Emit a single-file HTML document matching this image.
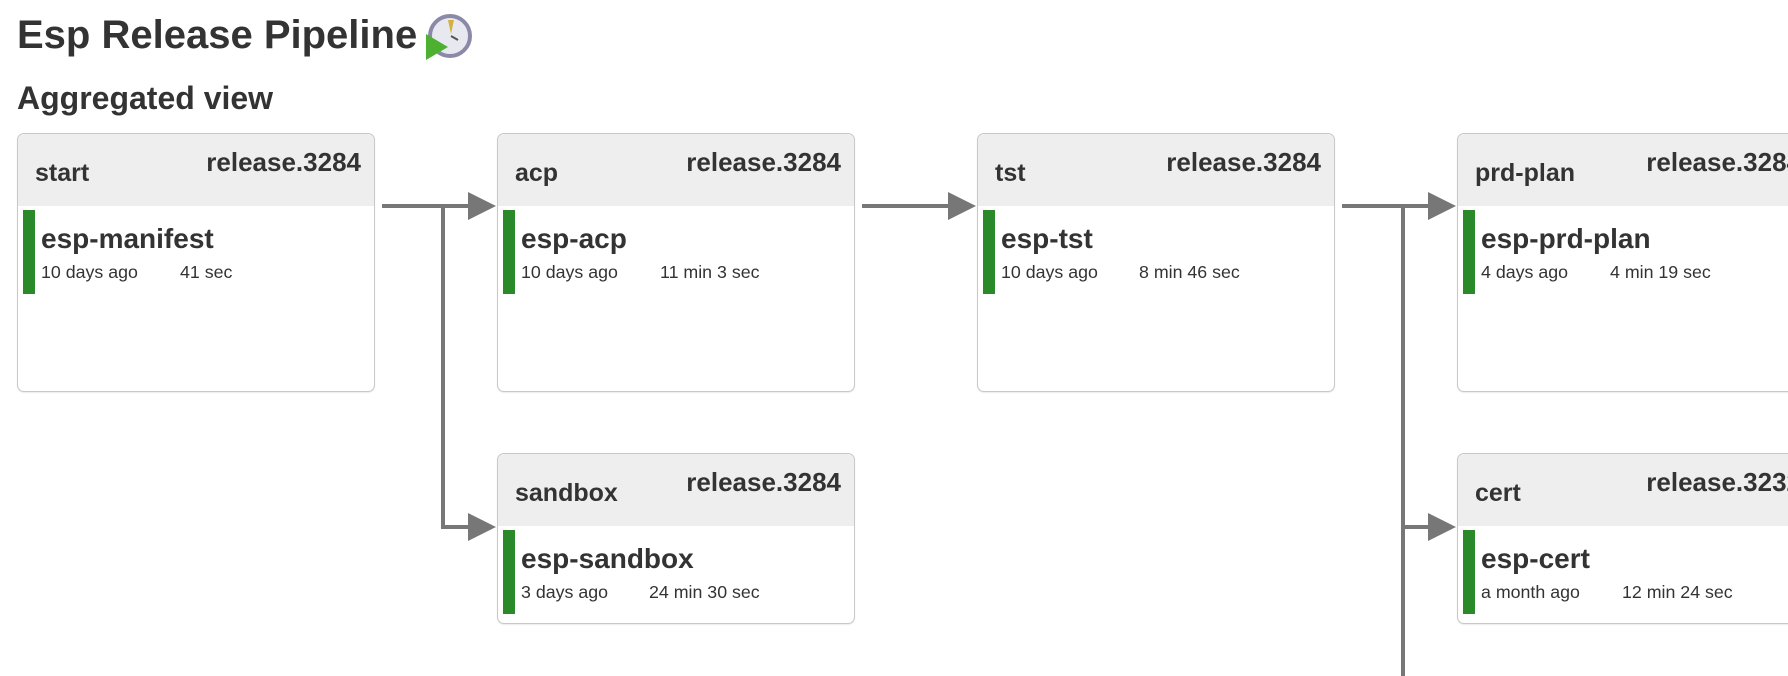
<!DOCTYPE html>
<html><head><meta charset="utf-8"><style>
html,body{margin:0;padding:0;width:1788px;height:676px;overflow:hidden;background:#fff;font-family:"Liberation Sans",Arial,sans-serif;color:#333;position:relative}
.t{position:absolute;white-space:nowrap;line-height:1}
.box{position:absolute;width:356px;border:1px solid #c8c8c8;border-radius:7px;background:#fff;overflow:hidden;box-shadow:0 1px 1px rgba(0,0,0,0.08)}
.hd{position:absolute;left:0;top:0;right:0;background:#eee}
.nm{position:absolute;left:17px;font-weight:bold;font-size:25px}
.rl{position:absolute;right:13px;font-weight:bold;font-size:26px}
.bar{position:absolute;left:5px;width:12px;background:#2a8a2a}
.job{position:absolute;left:23px;font-weight:bold;font-size:28px}
.m{position:absolute;font-size:17.8px}
</style></head><body>
<div class="t" style="left:17px;top:15px;font-size:40px;font-weight:bold">Esp Release Pipeline</div>
<svg style="position:absolute;left:424px;top:12px" width="48" height="50" viewBox="0 0 48 50">
<circle cx="26" cy="24" r="20" fill="#e8e8f0" stroke="#8a8aa8" stroke-width="4"/>
<path d="M24 8 L30 8 L27 22 Z" fill="#d4b040"/>
<line x1="27" y1="24" x2="34" y2="28" stroke="#555" stroke-width="2"/>
<path d="M2 22 L24 35 L2 48 Z" fill="#4cb030"/>
</svg>
<div class="t" style="left:17px;top:82px;font-size:32px;font-weight:bold">Aggregated view</div>

<svg style="position:absolute;left:0;top:0" width="1788" height="676">
<g stroke="#777" stroke-width="4" fill="none">
<line x1="382" y1="206" x2="470" y2="206"/>
<line x1="443" y1="206" x2="443" y2="527"/>
<line x1="441" y1="527" x2="470" y2="527"/>
<line x1="862" y1="206" x2="950" y2="206"/>
<line x1="1342" y1="206" x2="1430" y2="206"/>
<line x1="1403" y1="206" x2="1403" y2="676"/>
<line x1="1401" y1="527" x2="1430" y2="527"/>
</g>
<g fill="#777">
<path d="M468 192 L496 206 L468 220 Z"/>
<path d="M468 513 L496 527 L468 541 Z"/>
<path d="M948 192 L976 206 L948 220 Z"/>
<path d="M1428 192 L1456 206 L1428 220 Z"/>
<path d="M1428 513 L1456 527 L1428 541 Z"/>
</g>
</svg>

<div class="box" style="left:17px;top:133px;height:257px">
 <div class="hd" style="height:72px"></div>
 <div class="t nm" style="top:27px">start</div><div class="t rl" style="top:15px">release.3284</div>
 <div class="bar" style="top:76px;height:84px"></div>
 <div class="t job" style="top:91px">esp-manifest</div>
 <div class="t m" style="left:23px;top:130px">10 days ago</div><div class="t m" style="left:162px;top:130px">41 sec</div>
</div>
<div class="box" style="left:497px;top:133px;height:257px">
 <div class="hd" style="height:72px"></div>
 <div class="t nm" style="top:27px">acp</div><div class="t rl" style="top:15px">release.3284</div>
 <div class="bar" style="top:76px;height:84px"></div>
 <div class="t job" style="top:91px">esp-acp</div>
 <div class="t m" style="left:23px;top:130px">10 days ago</div><div class="t m" style="left:162px;top:130px">11 min 3 sec</div>
</div>
<div class="box" style="left:977px;top:133px;height:257px">
 <div class="hd" style="height:72px"></div>
 <div class="t nm" style="top:27px">tst</div><div class="t rl" style="top:15px">release.3284</div>
 <div class="bar" style="top:76px;height:84px"></div>
 <div class="t job" style="top:91px">esp-tst</div>
 <div class="t m" style="left:23px;top:130px">10 days ago</div><div class="t m" style="left:161px;top:130px">8 min 46 sec</div>
</div>
<div class="box" style="left:1457px;top:133px;height:257px">
 <div class="hd" style="height:72px"></div>
 <div class="t nm" style="top:27px">prd-plan</div><div class="t rl" style="top:15px">release.3284</div>
 <div class="bar" style="top:76px;height:84px"></div>
 <div class="t job" style="top:91px">esp-prd-plan</div>
 <div class="t m" style="left:23px;top:130px">4 days ago</div><div class="t m" style="left:152px;top:130px">4 min 19 sec</div>
</div>
<div class="box" style="left:497px;top:453px;height:169px">
 <div class="hd" style="height:72px"></div>
 <div class="t nm" style="top:27px">sandbox</div><div class="t rl" style="top:15px">release.3284</div>
 <div class="bar" style="top:76px;height:84px"></div>
 <div class="t job" style="top:91px">esp-sandbox</div>
 <div class="t m" style="left:23px;top:130px">3 days ago</div><div class="t m" style="left:151px;top:130px">24 min 30 sec</div>
</div>
<div class="box" style="left:1457px;top:453px;height:169px">
 <div class="hd" style="height:72px"></div>
 <div class="t nm" style="top:27px">cert</div><div class="t rl" style="top:15px">release.3232</div>
 <div class="bar" style="top:76px;height:84px"></div>
 <div class="t job" style="top:91px">esp-cert</div>
 <div class="t m" style="left:23px;top:130px">a month ago</div><div class="t m" style="left:164px;top:130px">12 min 24 sec</div>
</div>
</body></html>
